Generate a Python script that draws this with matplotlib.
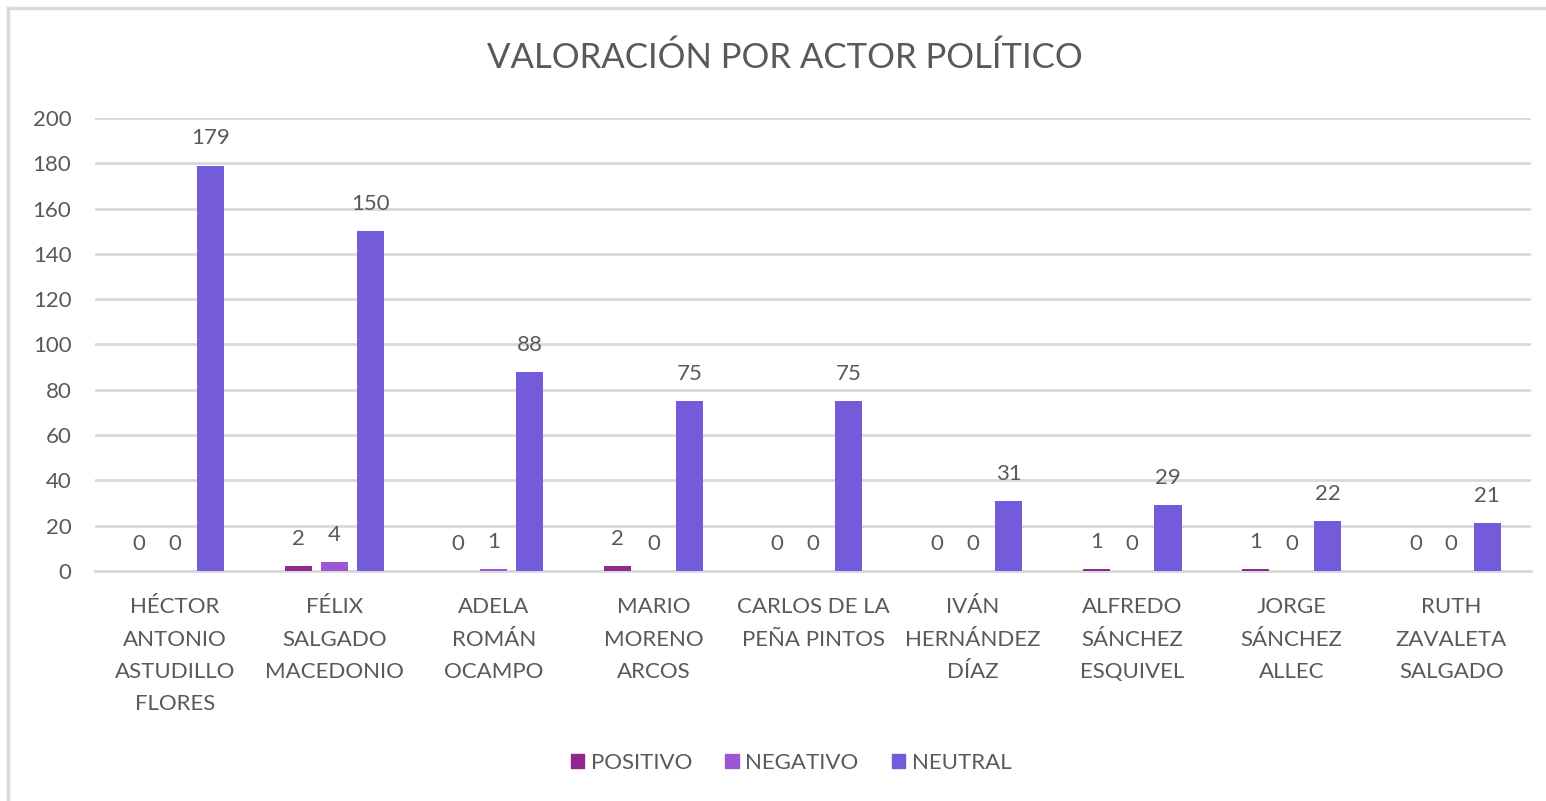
import matplotlib
matplotlib.use("Agg")
import matplotlib.pyplot as plt
import numpy as np
from matplotlib.lines import Line2D

categories = ["HÉCTOR\nANTONIO\nASTUDILLO\nFLORES", "FÉLIX\nSALGADO\nMACEDONIO",
              "ADELA\nROMÁN\nOCAMPO", "MARIO\nMORENO\nARCOS", "CARLOS DE LA\nPEÑA PINTOS",
              "IVÁN\nHERNÁNDEZ\nDÍAZ", "ALFREDO\nSÁNCHEZ\nESQUIVEL", "JORGE\nSÁNCHEZ\nALLEC",
              "RUTH\nZAVALETA\nSALGADO"]
positivo = [0, 2, 0, 2, 0, 0, 1, 1, 0]
negativo = [0, 4, 1, 0, 0, 0, 0, 0, 0]
neutral = [179, 150, 88, 75, 75, 31, 29, 22, 21]
series_names = ["POSITIVO", "NEGATIVO", "NEUTRAL"]
colors = ["#91288E", "#9E57D4", "#735BD9"]
yticks = [0, 20, 40, 60, 80, 100, 120, 140, 160, 180, 200]

plt.rcParams['font.family'] = ['Lato', 'DejaVu Sans']
txt = "#595959"

W, H = 1546, 801
fig = plt.figure(figsize=(W/100, H/100), dpi=100)
ax = fig.add_axes([95/W, 1-571/H, (1531-95)/W, (571-118)/H])

x = np.arange(len(categories))
bw = 0.17
off = 0.225
for i, (vals, c) in enumerate(zip([positivo, negativo, neutral], colors)):
    xs = x + (i-1)*off
    ax.bar(xs, vals, width=bw, color=c, zorder=3, label=series_names[i])
    for xi, v in zip(xs, vals):
        ax.annotate(str(v), (xi, v), xytext=(0, 19.5), textcoords='offset points',
                    ha='center', va='center', fontsize=16, color=txt)

ax.set_xlim(-0.5, len(categories)-0.5)
ax.set_ylim(0, 200)
ax.set_yticks(yticks)
ax.set_yticklabels([str(t) for t in yticks], fontsize=16, color=txt)
ax.set_xticks(x)
ax.set_xticklabels(categories, fontsize=16, color=txt, linespacing=1.76)
ax.tick_params(axis='x', length=0, pad=19)
ax.tick_params(axis='y', length=0, pad=17)
ax.grid(axis='y', color='#D9D9D9', linewidth=2, zorder=0)
for s in ['top', 'right', 'left']:
    ax.spines[s].set_visible(False)
ax.spines['bottom'].set_color('#D9D9D9')
ax.spines['bottom'].set_linewidth(2)

fig.text(785/W, 1-58/H, "VALORACIÓN POR ACTOR POLÍTICO", ha='center', va='center',
         fontsize=25, color=txt)

handles = [plt.Rectangle((0, 0), 1, 1, color=c) for c in colors]
fig.legend(handles, series_names, loc='center', bbox_to_anchor=(791/W, 1-763/H), ncol=3,
           frameon=False, fontsize=16, labelcolor=txt, handlelength=0.6, handleheight=0.6,
           handletextpad=0.3, columnspacing=1.5)

fig.add_artist(Line2D([8/W, 8/W], [0, 1-8/H], color='#D9D9D9', linewidth=2.5, transform=fig.transFigure))
fig.add_artist(Line2D([8/W, 1], [1-8/H, 1-8/H], color='#D9D9D9', linewidth=2.5, transform=fig.transFigure))

fig.savefig("out.png", dpi=100)
